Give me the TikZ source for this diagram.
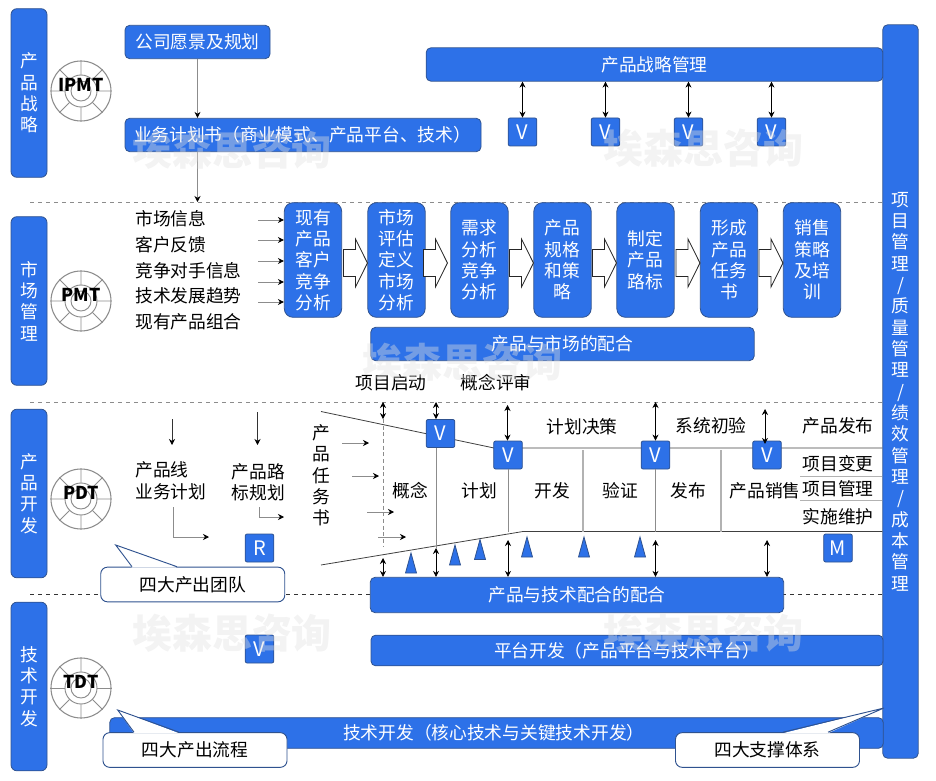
\documentclass[tikz,border=0pt]{standalone}
\usepackage{fontspec}
\setmainfont{Noto Sans CJK SC}
\usetikzlibrary{arrows.meta,calc,shapes.arrows,shapes.geometric}
\definecolor{boxBlue}{HTML}{2D71E8}
\definecolor{boxEdge}{HTML}{2F528F}
\definecolor{thinGray}{HTML}{8C8C8C}
\begin{document}
\begin{tikzpicture}[
    x=0.75pt,y=-0.75pt,
    every node/.style={font=\fontsize{13.3}{16}\selectfont},
    blueBox/.style={rectangle,rounded corners=3.5pt,draw=boxEdge,line width=0.6pt,fill=boxBlue,text=white,align=center,inner sep=0pt},
    sideBar/.style={blueBox,rounded corners=4.5pt,minimum width=27pt,minimum height=126.5pt},
    tallBox/.style={blueBox,rounded corners=6.5pt,minimum width=43pt,minimum height=86pt},
    gateBox/.style={blueBox,rounded corners=1.5pt,minimum width=21.5pt,minimum height=21pt,font=\fontsize{15}{16}\selectfont},
    plainText/.style={align=center,inner sep=0pt,text=black},
    noteBox/.style={rectangle,rounded corners=5pt,draw=boxEdge,line width=0.7pt,fill=white,minimum width=138pt,minimum height=26pt,inner sep=0pt},
    blockArrow/.style={single arrow,draw=black!85,fill=white,line width=0.6pt,minimum height=18pt,minimum width=36pt,single arrow tip angle=127,single arrow head indent=0pt,inner sep=0pt,outer sep=0pt,inner ysep=9pt},
    markTri/.style={draw=boxEdge,fill=boxBlue,line width=0.6pt},
    grayArrow/.style={-{Stealth[black,length=4.5pt,width=4.5pt]},draw=thinGray,line width=0.6pt},
    biArrow/.style={{Stealth[length=4.5pt,width=4.5pt]}-{Stealth[length=4.5pt,width=4.5pt]},draw=black,line width=0.5pt},
    flowLine/.style={draw=black!75,line width=0.6pt},
    phaseLine/.style={draw=black!30,line width=0.9pt},
    ruleLine/.style={draw=thinGray,dashed,line width=0.5pt},
    wheelLine/.style={draw=thinGray,line width=0.7pt},
    waterMark/.style={font=\fontsize{30}{30}\selectfont\bfseries,text=black!12,text opacity=0.4,inner sep=0pt},
]
\useasboundingbox (0,0) rectangle (936,781);

\coordinate (mktRule) at (30,202);
\coordinate (devRule) at (30,402);
\coordinate (techRule) at (30,594);
\coordinate (ruleEnd) at (883,594);
\draw[ruleLine] (mktRule) -- (mktRule -| ruleEnd);
\draw[ruleLine] (devRule) -- (devRule -| ruleEnd);
\draw[ruleLine,draw=black!80] (techRule) -- (ruleEnd);

\node[sideBar,text=white] (stratSide) at (29,93) {产\\品\\战\\略};
\node[sideBar] (mktSide) at (29,301) {市\\场\\管\\理};
\node[sideBar] (devSide) at (29,493.5) {产\\品\\开\\发};
\node[sideBar] (techSide) at (29,686.5) {技\\术\\开\\发};
\node[blueBox,minimum width=26.5pt,minimum height=550pt] (projBar) at (900.5,391.5) {项\\目\\管\\理\\/\\质\\量\\管\\理\\/\\绩\\效\\管\\理\\/\\成\\本\\管\\理};

\foreach \wheelY/\wheelText in {91/IPMT,301/PMT,499/PDT,688/TDT}{
    \node[circle,draw=thinGray,line width=0.8pt,minimum size=45pt,inner sep=0pt] (wheel\wheelText) at (81,\wheelY) {};
    \draw[wheelLine] (81,\wheelY) circle[radius=12pt];
    \draw[wheelLine] (81,\wheelY) circle[radius=7.5pt];
    \foreach \spokeAngle in {0,45,...,315}
        \draw[wheelLine] (wheel\wheelText.\spokeAngle) -- ($(wheel\wheelText.center)!0.53!(wheel\wheelText.\spokeAngle)$);
    \node[plainText,font=\fontsize{13.3}{16}\selectfont\bfseries] (wheelName\wheelText) at (81,\wheelY-6.5) {\wheelText};
}

\node[blueBox,minimum width=108.75pt,minimum height=25pt] (visionBox) at (197.5,42) {公司愿景及规划};
\node[blueBox,text width=253.5pt,align=left,inner xsep=6.75pt,minimum height=25pt] (planDoc) at (303,135) {业务计划书（商业模式、产品平台、技术）};
\draw[grayArrow] (visionBox.south) -- (visionBox |- planDoc.north);
\draw[grayArrow] (visionBox |- planDoc.south) -- (visionBox |- mktRule);

\node[blueBox,minimum width=342.5pt,minimum height=25pt] (stratBar) at (654.5,64.5) {产品战略管理};
\node[gateBox] (stratA) at (522.5,132) {V};
\node[gateBox] (stratB) at (605.5,132) {V};
\node[gateBox] (stratC) at (688.5,132) {V};
\node[gateBox] (stratD) at (771.5,132) {V};
\draw[biArrow] (stratBar.south -| stratA) -- (stratA.north);
\draw[biArrow,xshift=2pt] (stratBar.south -| stratB) -- (stratB.north);
\draw[biArrow] (stratBar.south -| stratC) -- (stratC.north);
\draw[biArrow] (stratBar.south -| stratD) -- (stratD.north);

\node[tallBox] (mktA) at (313,260) {现有\\产品\\客户\\竞争\\分析};
\node[tallBox] (mktB) at (396.5,260) {市场\\评估\\定义\\市场\\分析};
\node[tallBox] (mktC) at (479.5,260) {需求\\分析\\竞争\\分析};
\node[tallBox] (mktD) at (562.5,260) {产品\\规格\\和策\\略};
\node[tallBox] (mktE) at (645.5,260) {制定\\产品\\路标};
\node[tallBox] (mktF) at (729,260) {形成\\产品\\任务\\书};
\node[tallBox] (mktG) at (812,260) {销售\\策略\\及培\\训};
\foreach \arrowName in {mktB,mktD,mktE,mktF,mktG}
    \node[blockArrow,anchor=tip] (into\arrowName) at ($(\arrowName.west)+(0,3)$) {};
\node[blockArrow,anchor=tip] (intomktC) at ($(mktC.west)+(-3,3)$) {};

\foreach \listY/\listText [count=\listNo] in {219/市场信息,245/客户反馈,270.5/竞争对手信息,296/技术发展趋势,321.5/现有产品组合}
    \node[plainText,anchor=west] (mktList\listNo) at (135,\listY) {\listText};
\foreach \feedY [count=\feedNo] in {220,240,261,282,302}{
    \coordinate (feed\feedNo) at (258,\feedY);
    \draw[grayArrow] (feed\feedNo) -- (feed\feedNo -| mktA.west);
}

\node[blueBox,minimum width=287.5pt,minimum height=25pt] (mktFit) at (562.5,344) {产品与市场的配合};
\node[plainText] (kickOff) at (391,383) {项目启动};
\node[plainText] (conceptReview) at (496,383) {概念评审};

\coordinate (funnelTop) at (321,411.5);
\coordinate (funnelKnee) at (494,448);
\coordinate (funnelLow) at (321,565);
\coordinate (funnelBend) at (523,531.5);
\draw[flowLine] (funnelTop) -- (funnelKnee) -- (funnelKnee -| projBar.west);
\draw[flowLine] (funnelLow) -- (funnelBend) -- (funnelBend -| projBar.west);

\node[gateBox] (gateA) at (440.5,433.5) {V};
\node[gateBox] (gateB) at (508,455) {V};
\node[gateBox] (gateC) at (655.5,455) {V};
\node[gateBox] (gateD) at (767,455) {V};
\node[gateBox] (gateR) at (259.5,548) {R};
\node[gateBox] (gateM) at (838,548) {M};
\node[gateBox] (gateT) at (259.5,649) {V};

\node[blueBox,minimum width=310pt,minimum height=26.5pt] (techFit) at (577,595) {产品与技术配合的配合};
\node[blueBox,minimum width=384pt,minimum height=23pt] (platBar) at (627,650.5) {平台开发（产品平台与技术平台）};
\node[blueBox,minimum width=580pt,minimum height=23pt] (coreBar) at (496.5,733) {\hspace*{-4pt}技术开发（核心技术与关键技术开发）};

\coordinate (riseA) at (383,402);
\coordinate (riseB) at (436,402);
\coordinate (riseC) at (507.5,405);
\coordinate (riseD) at (655.5,402);
\coordinate (riseE) at (765,409);
\coordinate (lowA) at (383,558);
\coordinate (lowB) at (436,548);
\coordinate (lowC) at (508,540);
\coordinate (lowD) at (655.5,540);
\coordinate (lowE) at (767,540);
\coordinate (splitA) at (583,450);
\coordinate (splitB) at (721,450);
\draw[biArrow] (riseA) -- (riseA |- gateA.north);
\draw[biArrow] (riseB) -- (riseB |- gateA.north);
\draw[biArrow] (riseC) -- (riseC |- gateB.north);
\draw[biArrow] (riseD) -- (riseD |- gateC.north);
\draw[biArrow,shorten >=-2.5pt] (riseE) -- (riseE |- gateD.north);
\draw[biArrow] (lowA) -- (lowA |- techFit.north);
\draw[biArrow] (lowB) -- (lowB |- techFit.north);
\draw[biArrow] (lowC) -- (lowC |- techFit.north);
\draw[biArrow] (lowD) -- (lowD |- techFit.north);
\draw[biArrow] (lowE) -- (lowE |- techFit.north);
\draw[draw=thinGray,densely dashed,line width=0.5pt] (riseA |- gateA.north) -- (riseA |- 0,546);
\draw[draw=thinGray,line width=0.7pt] (riseB |- gateA.south) -- (lowB);
\draw[draw=thinGray,line width=0.7pt] (gateB.south) -- (gateB |- funnelBend);
\draw[draw=thinGray,line width=0.7pt] (gateC.south) -- (gateC |- funnelBend);
\draw[phaseLine] (splitA) -- (splitA |- funnelBend);
\draw[phaseLine] (splitB) -- (splitB |- funnelBend);

\foreach \triX/\triY in {411/553,455/545,480/539.5,527/537,584/537,640/537}
    \draw[markTri] (\triX,\triY) -- (\triX+5.5,\triY+20) -- (\triX-5.5,\triY+20) -- cycle;

\node[plainText] (planGate) at (582,427) {计划决策};
\node[plainText] (sysTrial) at (711,426) {系统初验};
\node[plainText] (launchGate) at (838,426) {产品发布};
\node[plainText] (stageA) at (410,491) {概念};
\node[plainText] (stageB) at (479.5,491) {计划};
\node[plainText] (stageC) at (552,491) {开发};
\node[plainText] (stageD) at (620.5,491) {验证};
\node[plainText] (stageE) at (688,491) {发布};
\node[plainText] (stageF) at (765,491) {产品销售};
\node[plainText] (supportA) at (838,464) {项目变更};
\node[plainText] (supportB) at (838,489) {项目管理};
\node[plainText] (supportC) at (838,517) {实施维护};
\coordinate (supportLine) at (800,476);
\coordinate (supportLineB) at (800,500);
\draw[draw=black!30,line width=0.7pt] (supportLine) -- (supportLine -| projBar.west);
\draw[draw=black!30,line width=0.7pt] (supportLineB) -- (supportLineB -| projBar.west);

\node[plainText,align=left,anchor=north west] (lineBiz) at (135,461.5) {产品线\\业务计划};
\node[plainText] (roadPlan) at (258.5,482.5) {产品路\\标规划};
\node[plainText] (taskDoc) at (321,475.5) {产\\品\\任\\务\\书};
\coordinate (dropA) at (172,419);
\coordinate (dropB) at (257.5,412);
\coordinate (dropEnd) at (0,445);
\draw[grayArrow,draw=black!80] (dropA) -- (dropA |- dropEnd);
\draw[grayArrow,draw=black!80] (dropB) -- (dropB |- dropEnd);
\coordinate (bendA) at (173.5,507);
\coordinate (bendAend) at (209,537);
\coordinate (bendB) at (259,507);
\coordinate (bendBend) at (284,517);
\draw[grayArrow] (bendA) |- (bendAend);
\draw[grayArrow] (bendB) |- (bendBend);
\foreach \feedA/\feedB/\feedY [count=\feedNo] in {342/369/443,352/379/476,367/394/512,378/406/537}{
    \coordinate (taskIn\feedNo) at (\feedA,\feedY);
    \coordinate (taskOut\feedNo) at (\feedB,\feedY);
    \draw[grayArrow] (taskIn\feedNo) -- (taskOut\feedNo);
}

\node[noteBox] (teamNote) at (192.75,584.5) {四大产出团队};
\node[noteBox] (flowNote) at (195,750) {四大产出流程};
\node[noteBox] (supportNote) at (767.5,750) {四大支撑体系};
\foreach \noteName/\tailA/\tipX/\tipY/\tailB in {teamNote/132/115.7/545/177,flowNote/134/117.7/710/179,supportNote/783/884/708/828}{
    \coordinate (tailA\noteName) at (\tailA,0);
    \coordinate (tailB\noteName) at (\tailB,0);
    \coordinate (tip\noteName) at (\tipX,\tipY);
    \fill[white] ($(tailA\noteName |- \noteName.north)+(0,1)$) -- (tip\noteName) -- ($(tailB\noteName |- \noteName.north)+(0,1)$) -- cycle;
    \draw[draw=boxEdge,line width=0.7pt] (tailA\noteName |- \noteName.north) -- (tip\noteName) -- (tailB\noteName |- \noteName.north);
}

\node[waterMark] (markA) at (232,150) {埃森思咨询};
\node[waterMark] (markB) at (462,362) {埃森思咨询};
\node[waterMark] (markC) at (703,148) {埃森思咨询};
\node[waterMark] (markD) at (232,633) {埃森思咨询};
\node[waterMark] (markE) at (703,633) {埃森思咨询};
\end{tikzpicture}
\end{document}
